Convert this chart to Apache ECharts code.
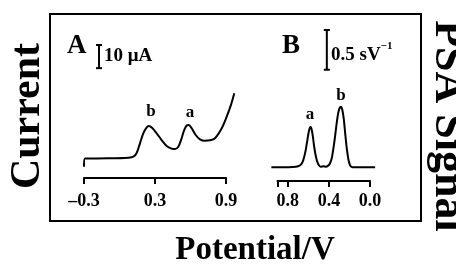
<!DOCTYPE html>
<html><head><meta charset="utf-8">
<script src="https://cdn.jsdelivr.net/npm/echarts@6/dist/echarts.min.js"></script>
<style>html,body{margin:0;padding:0;background:#fff}#c{width:456px;height:264px}</style>
</head><body><div id="c"></div>
<script>
// Panel A: current vs potential
const potentialA = [-0.300, -0.292, -0.095, 0.074, 0.117, 0.145, 0.173, 0.201, 0.230, 0.249, 0.277, 0.314, 0.356, 0.399, 0.441, 0.469, 0.497, 0.520, 0.542, 0.565, 0.585, 0.610, 0.644, 0.680, 0.722, 0.765, 0.807, 0.864, 0.906, 0.942, 0.970];
const currentA = [4.9, 8.4, 8.5, 8.8, 9.2, 10.8, 15.0, 19.3, 21.9, 22.5, 21.6, 19.3, 16.4, 13.8, 12.7, 12.5, 13.5, 16.4, 20.0, 22.5, 22.9, 21.5, 18.6, 16.7, 16.1, 16.3, 17.2, 21.5, 26.5, 31.6, 36.6];
// Panel B: PSA signal vs potential (reversed axis)
const potentialB = [0.96, 0.85, 0.75, 0.70, 0.67, 0.65, 0.63, 0.615, 0.60, 0.588, 0.579, 0.57, 0.558, 0.545, 0.53, 0.515, 0.50, 0.48, 0.45, 0.43, 0.41, 0.39, 0.37, 0.355, 0.34, 0.325, 0.31, 0.295, 0.283, 0.27, 0.255, 0.24, 0.225, 0.21, 0.195, 0.18, 0.15, 0.05, -0.05];
const signalB = [0.172, 0.172, 0.175, 0.185, 0.21, 0.26, 0.36, 0.47, 0.59, 0.66, 0.683, 0.66, 0.58, 0.45, 0.33, 0.25, 0.205, 0.18, 0.185, 0.18, 0.19, 0.22, 0.30, 0.42, 0.56, 0.72, 0.85, 0.92, 0.935, 0.90, 0.78, 0.58, 0.40, 0.27, 0.20, 0.178, 0.172, 0.172, 0.172];
// Peak labels (potential, value, text)
const peakLabelsA = [[0.266, 28.5, 'b'], [0.596, 28.1, 'a']];
const peakLabelsB = [[0.585, 0.84, 'a'], [0.283, 1.08, 'b']];
// Scale bars: [potential, low, high]
const scaleBarA = [-0.173, 47.5, 57.5];   // 10 μA
const scaleBarB = [0.42, 1.4, 1.9];       // 0.5 sV^-1
// Axis settings
const ticksA = { min: -0.3, max: 0.9, interval: 0.6 };
const ticksB = { min: 0, max: 0.9, interval: 0.4 };
const dataRangeA = { min: -0.3, max: 0.976 };
const dataRangeB = { min: -0.05, max: 0.965 };

const SERIF = '"Liberation Serif", "DejaVu Serif", serif';
const chart = echarts.init(document.getElementById('c'), null, { renderer: 'canvas' });

const axisCommon = {
  type: 'value',
  splitLine: { show: false },
  axisLine: { show: true, onZero: false, lineStyle: { color: '#000', width: 2 } },
  axisTick: { show: true, length: 6, lineStyle: { color: '#000', width: 2 } },
  axisLabel: { color: '#000', fontFamily: SERIF, fontWeight: 'bold', fontSize: 18 }
};
const hiddenX = { type: 'value', show: false, splitLine: { show: false } };

function zip(xs, ys) { return xs.map((x, i) => [x, ys[i]]); }

// pixel scale of A: 142px per 1.2 V; B: 92.5px per 0.9 V
const pxA = 142 / 1.2, pxB = 92.5 / 0.9;

const peakLabelStyle = { show: true, position: 'inside', formatter: '{b}', color: '#000',
  opacity: 1, fontFamily: SERIF, fontWeight: 'bold', fontSize: 17 };

const option = {
  backgroundColor: '#fff',
  animation: false,
  grid: [
    { left: 84, width: 142, top: 30, height: 148 },
    { left: 277.5, width: 92.5, top: 30, height: 151 },
    { left: 84, width: (dataRangeA.max - dataRangeA.min) * pxA, top: 30, height: 148 },
    { left: 277.5 + (ticksB.max - dataRangeB.max) * pxB, width: (dataRangeB.max - dataRangeB.min) * pxB, top: 30, height: 151 }
  ],
  xAxis: [
    Object.assign({}, axisCommon, {
      gridIndex: 0, min: ticksA.min, max: ticksA.max, interval: ticksA.interval,
      axisLabel: Object.assign({}, axisCommon.axisLabel, { margin: 14,
        formatter: v => (v < 0 ? '\u2013' : '') + Math.abs(v).toFixed(1) })
    }),
    Object.assign({}, axisCommon, {
      gridIndex: 1, min: ticksB.min, max: ticksB.max, interval: ticksB.interval, inverse: true,
      axisLabel: Object.assign({}, axisCommon.axisLabel, { margin: 11,
        formatter: v => Math.abs(v - ticksB.max) < 1e-6 ? '' : v.toFixed(1) })
    }),
    Object.assign({}, hiddenX, { gridIndex: 2, min: dataRangeA.min, max: dataRangeA.max }),
    Object.assign({}, hiddenX, { gridIndex: 3, min: dataRangeB.min, max: dataRangeB.max, inverse: true })
  ],
  yAxis: [
    { type: 'value', gridIndex: 0, min: 0, max: 64, show: false, splitLine: { show: false } },
    { type: 'value', gridIndex: 1, min: 0, max: 1.9, show: false, splitLine: { show: false } },
    { type: 'value', gridIndex: 2, min: 0, max: 64, show: false, splitLine: { show: false } },
    { type: 'value', gridIndex: 3, min: 0, max: 1.9, show: false, splitLine: { show: false } }
  ],
  series: [
    { type: 'line', xAxisIndex: 2, yAxisIndex: 2, data: zip(potentialA, currentA),
      smooth: 0.3, showSymbol: false, clip: false, lineStyle: { color: '#000', width: 2 } },
    { type: 'line', xAxisIndex: 3, yAxisIndex: 3, data: zip(potentialB, signalB),
      smooth: 0.3, showSymbol: false, clip: false, lineStyle: { color: '#000', width: 2 } },
    { type: 'line', xAxisIndex: 0, yAxisIndex: 0,
      data: [[scaleBarA[0], scaleBarA[1]], [scaleBarA[0], scaleBarA[2]]],
      symbol: 'rect', symbolSize: [6, 2], showSymbol: true, clip: false,
      itemStyle: { color: '#000' }, lineStyle: { color: '#000', width: 2 } },
    { type: 'line', xAxisIndex: 1, yAxisIndex: 1,
      data: [[scaleBarB[0], scaleBarB[1]], [scaleBarB[0], scaleBarB[2]]],
      symbol: 'rect', symbolSize: [6, 2], showSymbol: true, clip: false,
      itemStyle: { color: '#000' }, lineStyle: { color: '#000', width: 2 } },
    { type: 'scatter', xAxisIndex: 0, yAxisIndex: 0, symbolSize: 0, clip: false,
      itemStyle: { opacity: 1, color: '#000' },
      data: peakLabelsA.map(p => ({ value: [p[0], p[1]], name: p[2] })),
      label: peakLabelStyle },
    { type: 'scatter', xAxisIndex: 1, yAxisIndex: 1, symbolSize: 0, clip: false,
      itemStyle: { opacity: 1, color: '#000' },
      data: peakLabelsB.map(p => ({ value: [p[0], p[1]], name: p[2] })),
      label: peakLabelStyle }
  ],
  graphic: [
    { type: 'rect', shape: { x: 50, y: 14, width: 371, height: 207 },
      style: { fill: null, stroke: '#000', lineWidth: 2 }, z: 1 },
    { type: 'text', x: 67, y: 46, style: { text: 'A', fill: '#000', font: 'bold 27px ' + SERIF, textAlign: 'left', textVerticalAlign: 'middle' } },
    { type: 'text', x: 104, y: 56, style: { text: '10 \u03bcA', fill: '#000', font: 'bold 19px ' + SERIF, textAlign: 'left', textVerticalAlign: 'middle' } },
    { type: 'text', x: 282, y: 46, style: { text: 'B', fill: '#000', font: 'bold 27px ' + SERIF, textAlign: 'left', textVerticalAlign: 'middle' } },
    { type: 'text', x: 331, y: 53, style: {
        text: '{m|0.5 sV}{s|\u22121}', fill: '#000', textAlign: 'left', textVerticalAlign: 'middle',
        rich: {
          m: { fontFamily: SERIF, fontWeight: 'bold', fontSize: 19, fill: '#000', verticalAlign: 'bottom', lineHeight: 24 },
          s: { fontFamily: SERIF, fontWeight: 'bold', fontSize: 11, fill: '#000', verticalAlign: 'top', lineHeight: 24 }
        } } },
    { type: 'text', x: 28, y: 116, rotation: Math.PI / 2,
      style: { text: 'Current', fill: '#000', font: 'bold 42px ' + SERIF, textAlign: 'center', textVerticalAlign: 'middle' } },
    { type: 'text', x: 447, y: 126, rotation: -Math.PI / 2,
      style: { text: 'PSA Signal', fill: '#000', font: 'bold 44px ' + SERIF, textAlign: 'center', textVerticalAlign: 'middle' } },
    { type: 'text', x: 255, y: 250,
      style: { text: 'Potential/V', fill: '#000', font: 'bold 33px ' + SERIF, textAlign: 'center', textVerticalAlign: 'middle' } }
  ]
};
chart.setOption(option);
</script></body></html>
